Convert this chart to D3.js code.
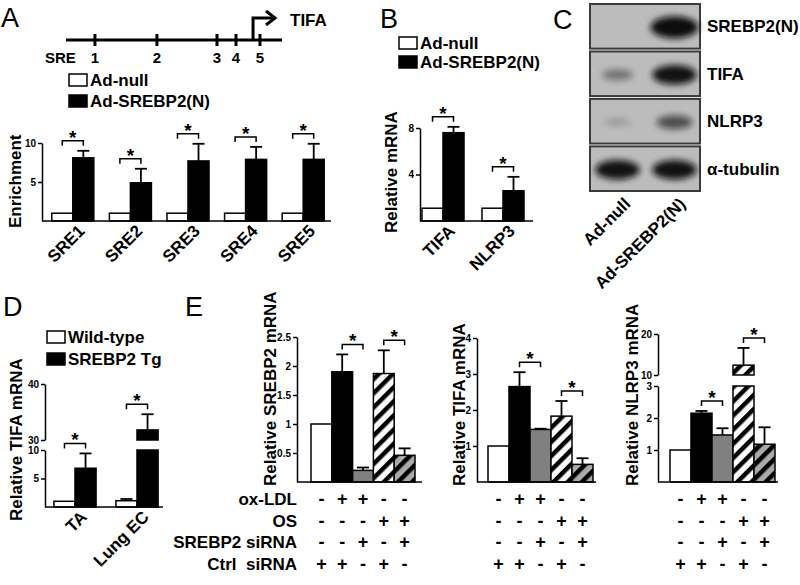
<!DOCTYPE html>
<meta charset="UTF-8">
<style>
body { margin: 0; background: #fff; }
svg { display: block; font-family: "Liberation Sans", Arial, sans-serif; font-weight: bold; }
.axis text { font-family: "Liberation Sans", Arial, sans-serif; font-weight: bold; font-size: 10px; }
.axis path, .axis line { stroke: #000; stroke-width: 1.5px; }
.plet { font-weight: normal; font-size: 27px; }
</style>
<body>
<script src="https://cdn.jsdelivr.net/npm/d3@7"></script>
<script>
// ---- panel A: promoter + ChIP enrichment
var promoterSites = ["1", "2", "3", "4", "5"];
var promoterPos = [0.134, 0.421, 0.699, 0.787, 0.898];
var promoterTss = 0.866;

var enrichCats = ["SRE1", "SRE2", "SRE3", "SRE4", "SRE5"];
var enrichNull = [1, 1, 1, 1, 1];
var enrichSrebp2 = [8.1, 4.9, 7.7, 7.9, 7.9];
var enrichSrebp2Err = [0.9, 1.8, 2.2, 1.6, 2.0];
var enrichTicks = [5, 10];

// ---- panel B
var mrnaCats = ["TIFA", "NLRP3"];
var mrnaNull = [1.1, 1.1];
var mrnaSrebp2 = [7.6, 2.6];
var mrnaSrebp2Err = [0.5, 1.2];
var mrnaTicks = [4, 8];

// ---- panel C: western blot band intensities (0..1)
var blotProteins = ["SREBP2(N)", "TIFA", "NLRP3", "α-tubulin"];
var blotLanes = ["Ad-null", "Ad-SREBP2(N)"];
var blotNull = [0, 0.3, 0.08, 0.85];
var blotSrebp2 = [1, 0.85, 0.5, 0.85];

// ---- panel D
var tgCats = ["TA", "Lung EC"];
var tgWild = [1.0, 1.1];
var tgWildErr = [0, 0.3];
var tgSrebp2 = [6.8, 31.8];
var tgSrebp2Err = [2.6, 2.8];
var tgTicksLow = [5, 10];
var tgTicksHigh = [30, 40];

// ---- panel E
var condNames = ["ox-LDL", "OS", "SREBP2 siRNA", "Ctrl  siRNA"];
var condOxLdl = ["-", "+", "+", "-", "-"];
var condOs = ["-", "-", "-", "+", "+"];
var condSiSrebp2 = ["-", "-", "+", "-", "+"];
var condSiCtrl = ["+", "+", "-", "+", "-"];

var eSrebp2 = [1.0, 1.9, 0.2, 1.87, 0.46];
var eSrebp2Err = [0, 0.3, 0.05, 0.4, 0.12];
var eTifa = [1.0, 2.65, 1.46, 1.83, 0.49];
var eTifaErr = [0, 0.4, 0.02, 0.42, 0.17];
var eNlrp3 = [1.0, 2.15, 1.47, 12.4, 1.18];
var eNlrp3Err = [0, 0.07, 0.21, 4.2, 0.53];
var eSigPairs = [[1, 2], [3, 4]];

var svg = d3.select("body").append("svg").attr("width", 800).attr("height", 585);
var defs = svg.append("defs");

function hatch(id, bg) {
  var p = defs.append("pattern").attr("id", id)
      .attr("patternUnits", "userSpaceOnUse")
      .attr("width", 10).attr("height", 10)
      .attr("patternTransform", "rotate(45)");
  p.append("rect").attr("width", 10).attr("height", 10).attr("fill", bg);
  p.append("rect").attr("width", 4.5).attr("height", 10).attr("fill", "#000");
}
hatch("hatchW", "#fff");
hatch("hatchG", "#aaa");

var blur = defs.append("filter").attr("id", "blur")
    .attr("x", "-50%").attr("y", "-80%").attr("width", "200%").attr("height", "260%");
blur.append("feGaussianBlur").attr("stdDeviation", 3);

// piecewise (optionally broken) value -> y
function ymap(sc, v) {
  if (!sc.upper || v <= sc.lower.domain()[1]) return sc.lower(v);
  return sc.upper(v);
}
function barSegs(sc, v) {
  var lo = sc.lower.domain()[1];
  if (!sc.upper || v <= lo) return [[sc.lower(0), sc.lower(v)]];
  return [[sc.lower(0), sc.lower(lo)], [sc.upper(sc.upper.domain()[0]), sc.upper(v)]];
}

function drawAxis(g, x, sc, ticksLow, ticksHigh) {
  g.append("g").attr("class", "axis").attr("transform", "translate(" + x + ",0)")
    .call(d3.axisLeft(sc.lower).tickValues(ticksLow).tickSize(4).tickSizeOuter(0).tickPadding(2).tickFormat(d3.format("~g")));
  if (sc.upper) {
    g.append("g").attr("class", "axis").attr("transform", "translate(" + x + ",0)")
      .call(d3.axisLeft(sc.upper).tickValues(ticksHigh).tickSize(4).tickSizeOuter(0).tickPadding(2).tickFormat(d3.format("~g")));
  }
}

function drawBar(g, sc, x, w, v, fill) {
  barSegs(sc, v).forEach(function(s) {
    g.append("rect").attr("x", x).attr("width", w)
      .attr("y", Math.min(s[0], s[1])).attr("height", Math.abs(s[0] - s[1]))
      .attr("fill", fill).attr("stroke", "#000").attr("stroke-width", 1.5);
  });
}

function drawErr(g, sc, cx, v, e) {
  if (!e) return;
  var y0 = ymap(sc, v), y1 = ymap(sc, v + e);
  g.append("line").attr("x1", cx).attr("x2", cx).attr("y1", y0).attr("y2", y1)
    .attr("stroke", "#000").attr("stroke-width", 1.8);
  g.append("line").attr("x1", cx - 6).attr("x2", cx + 6).attr("y1", y1).attr("y2", y1)
    .attr("stroke", "#000").attr("stroke-width", 1.8);
}

function bracket(g, x1, x2, y) {
  g.append("path").attr("d", "M" + x1 + "," + (y + 5) + "V" + y + "H" + x2 + "V" + (y + 5))
    .attr("fill", "none").attr("stroke", "#000").attr("stroke-width", 1.5);
  g.append("text").attr("x", (x1 + x2) / 2).attr("y", y + 3)
    .attr("text-anchor", "middle").attr("font-size", 19).text("*");
}

function yLabel(g, x, y, s) {
  g.append("text").attr("transform", "translate(" + x + "," + y + ") rotate(-90)")
    .attr("font-size", 17).text(s);
}

function xLabel(g, x, y, s) {
  g.append("text").attr("transform", "translate(" + x + "," + y + ") rotate(-45)")
    .attr("text-anchor", "end").attr("font-size", 17).text(s);
}

function legend(g, x, y, gap, names) {
  names.forEach(function(n, i) {
    g.append("rect").attr("x", x).attr("y", y + i * gap - 11).attr("width", 18).attr("height", 12)
      .attr("fill", i ? "#000" : "#fff").attr("stroke", "#000").attr("stroke-width", 1.5);
    g.append("text").attr("x", x + 21).attr("y", y + i * gap + 1).attr("font-size", 17).text(n);
  });
}

function letter(x, y, s) {
  svg.append("text").attr("class", "plet").attr("x", x).attr("y", y).text(s);
}

// two-series chart (white vs black) used by A, B, D
function pairChart(o) {
  var g = svg.append("g");
  var x = d3.scaleBand().domain(o.cats).range(o.range).paddingInner(o.pad).paddingOuter(o.pad / 2);
  var s = d3.scaleBand().domain([0, 1]).range([0, x.bandwidth()]);
  var base = o.sc.lower(0);
  o.cats.forEach(function(c, i) {
    var x0 = x(c), w = s.bandwidth();
    drawBar(g, o.sc, x0, w, o.a[i], "#fff");
    drawBar(g, o.sc, x0 + w, w, o.b[i], "#000");
    drawErr(g, o.sc, x0 + w / 2, o.a[i], o.aErr[i]);
    drawErr(g, o.sc, x0 + w * 1.5, o.b[i], o.bErr[i]);
    var top = Math.min(ymap(o.sc, o.a[i] + o.aErr[i]), ymap(o.sc, o.b[i] + o.bErr[i]));
    bracket(g, x0 + w / 2, x0 + w * 1.5, top - 10);
    xLabel(g, x0 + x.bandwidth() / 2 + 13, base + 11, c);
  });
  g.append("line").attr("x1", o.axisX).attr("x2", o.baseEnd).attr("y1", base).attr("y2", base)
    .attr("stroke", "#000").attr("stroke-width", 1.5);
  drawAxis(g, o.axisX, o.sc, o.ticks, o.ticksHigh);
  yLabel(g, o.labX, o.labY, o.label);
  return g;
}

// ---------- Panel A
letter(1, 27, "A");
var gP = svg.append("g");
var pr = d3.scaleLinear().domain([0, 1]).range([66, 282]);
gP.append("line").attr("x1", pr(0)).attr("x2", pr(1)).attr("y1", 40).attr("y2", 40)
  .attr("stroke", "#000").attr("stroke-width", 3);
promoterPos.forEach(function(p, i) {
  gP.append("line").attr("x1", pr(p)).attr("x2", pr(p)).attr("y1", 34).attr("y2", 46)
    .attr("stroke", "#000").attr("stroke-width", 3);
  gP.append("text").attr("x", pr(p)).attr("y", 63).attr("text-anchor", "middle")
    .attr("font-size", 15).text(promoterSites[i]);
});
gP.append("text").attr("x", 45).attr("y", 63).attr("font-size", 15).text("SRE");
gP.append("path").attr("d", "M" + pr(promoterTss) + ",40V18H274")
  .attr("fill", "none").attr("stroke", "#000").attr("stroke-width", 3);
gP.append("path").attr("d", "M266,11L275,18L266,25")
  .attr("fill", "none").attr("stroke", "#000").attr("stroke-width", 3);
gP.append("text").attr("x", 290).attr("y", 26).attr("font-size", 17).text("TIFA");
legend(svg.append("g"), 69, 85, 21, ["Ad-null", "Ad-SREBP2(N)"]);

pairChart({
  cats: enrichCats, a: enrichNull, aErr: [0, 0, 0, 0, 0], b: enrichSrebp2, bErr: enrichSrebp2Err,
  range: [44, 332], pad: 0.27, axisX: 42, baseEnd: 331,
  sc: { lower: d3.scaleLinear().domain([0, 10]).range([221, 143]) },
  ticks: enrichTicks, label: "Enrichment", labX: 21, labY: 228
});

// ---------- Panel B
letter(380, 28, "B");
legend(svg.append("g"), 399, 48, 19, ["Ad-null", "Ad-SREBP2(N)"]);
pairChart({
  cats: mrnaCats, a: mrnaNull, aErr: [0, 0], b: mrnaSrebp2, bErr: mrnaSrebp2Err,
  range: [413, 533], pad: 0.3, axisX: 420, baseEnd: 533,
  sc: { lower: d3.scaleLinear().domain([0, 8]).range([221, 128]) },
  ticks: mrnaTicks, label: "Relative mRNA", labX: 397, labY: 233
});

// ---------- Panel C (blot)
letter(553, 29, "C");
var gC = svg.append("g");
var rowB = d3.scaleBand().domain(blotProteins).range([4, 191]).paddingInner(0.06);
var laneB = d3.scaleBand().domain(blotLanes).range([590, 700]);
var bandV = [blotNull, blotSrebp2];
blotProteins.forEach(function(p, i) {
  var y0 = rowB(p), h = rowB.bandwidth();
  gC.append("rect").attr("x", 590).attr("y", y0).attr("width", 110).attr("height", h)
    .attr("fill", "#bcbcbc").attr("stroke", "#3a3a3a").attr("stroke-width", 2);
  blotLanes.forEach(function(l, j) {
    var v = bandV[j][i];
    if (v <= 0) return;
    gC.append("ellipse").attr("cx", laneB(l) + laneB.bandwidth() / 2 + (j ? 2 : 0))
      .attr("cy", y0 + h / 2 + 1)
      .attr("rx", 12 + 12 * v).attr("ry", 3 + 8 * v)
      .attr("fill", "#111").attr("opacity", Math.min(1, 0.12 + v))
      .attr("filter", "url(#blur)");
  });
  gC.append("text").attr("x", 707).attr("y", y0 + h / 2 + 6).attr("font-size", 17).text(p);
});
blotLanes.forEach(function(l) {
  xLabel(gC, laneB(l) + laneB.bandwidth() / 2 + 14, 205, l);
});

// ---------- Panel D (broken axis)
letter(3, 316, "D");
legend(svg.append("g"), 47, 342, 22, ["Wild-type", "SREBP2 Tg"]);
pairChart({
  cats: tgCats, a: tgWild, aErr: tgWildErr, b: tgSrebp2, bErr: tgSrebp2Err,
  range: [44, 168], pad: 0.32, axisX: 45, baseEnd: 163,
  sc: { lower: d3.scaleLinear().domain([0, 10]).range([507, 450]),
        upper: d3.scaleLinear().domain([30, 40]).range([440, 384]) },
  ticks: tgTicksLow, ticksHigh: tgTicksHigh, label: "Relative TIFA mRNA", labX: 22, labY: 521
});

// ---------- Panel E
letter(185, 316, "E");
var eFills = ["#fff", "#000", "#808080", "url(#hatchW)", "url(#hatchG)"];
var eCharts = [
  { m: eSrebp2, e: eSrebp2Err, axisX: 297, bars: [311, 415], baseEnd: 422,
    sc: { lower: d3.scaleLinear().domain([0, 2.5]).range([482, 337]) },
    ticks: [0.5, 1, 1.5, 2, 2.5], label: "Relative SREBP2 mRNA", labX: 276 },
  { m: eTifa, e: eTifaErr, axisX: 477, bars: [488, 593], baseEnd: 596,
    sc: { lower: d3.scaleLinear().domain([0, 4]).range([482, 338]) },
    ticks: [1, 2, 3, 4], label: "Relative TIFA mRNA", labX: 465 },
  { m: eNlrp3, e: eNlrp3Err, axisX: 658, bars: [670, 775], baseEnd: 778,
    sc: { lower: d3.scaleLinear().domain([0, 3]).range([482, 386]),
          upper: d3.scaleLinear().domain([10, 20]).range([375, 334]) },
    ticks: [1, 2, 3], ticksHigh: [10, 20], label: "Relative NLRP3 mRNA", labX: 638 }
];
var condRows = [condOxLdl, condOs, condSiSrebp2, condSiCtrl];
var rowY = d3.scalePoint().domain(condNames).range([505, 570]);
var gE = svg.append("g");
condNames.forEach(function(n) {
  gE.append("text").attr("x", 297).attr("y", rowY(n)).attr("text-anchor", "end")
    .attr("font-size", 17).style("white-space", "pre").text(n);
});
eCharts.forEach(function(c) {
  var g = svg.append("g");
  var x = d3.scaleBand().domain(d3.range(c.m.length)).range(c.bars);
  c.m.forEach(function(v, i) {
    drawBar(g, c.sc, x(i), x.bandwidth(), v, eFills[i]);
  });
  c.m.forEach(function(v, i) {
    drawErr(g, c.sc, x(i) + x.bandwidth() / 2, v, c.e[i]);
  });
  eSigPairs.forEach(function(p) {
    var top = Math.min(ymap(c.sc, c.m[p[0]] + c.e[p[0]]), ymap(c.sc, c.m[p[1]] + c.e[p[1]]));
    bracket(g, x(p[0]) + x.bandwidth() / 2, x(p[1]) + x.bandwidth() / 2, top - 10);
  });
  g.append("line").attr("x1", c.axisX).attr("x2", c.baseEnd).attr("y1", 482).attr("y2", 482)
    .attr("stroke", "#000").attr("stroke-width", 1.5);
  drawAxis(g, c.axisX, c.sc, c.ticks, c.ticksHigh);
  yLabel(g, c.labX, 486, c.label);
  condRows.forEach(function(r, k) {
    r.forEach(function(s, i) {
      g.append("text").attr("x", x(i) + x.bandwidth() / 2).attr("y", rowY(condNames[k]))
        .attr("text-anchor", "middle").attr("font-size", 18).text(s);
    });
  });
});
</script>
</body>
